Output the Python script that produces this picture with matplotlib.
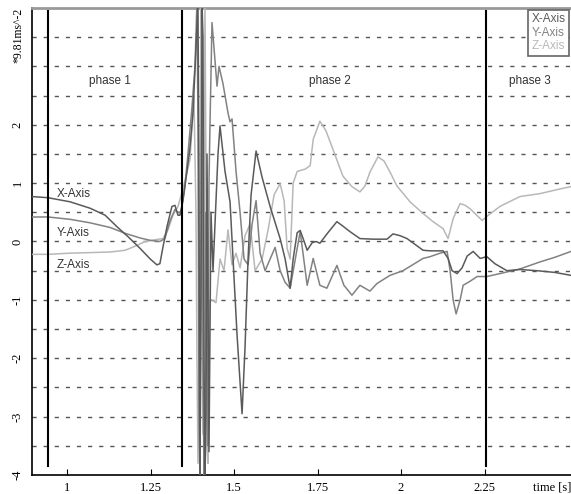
import numpy as np
import matplotlib
matplotlib.use("Agg")
import matplotlib.pyplot as plt

# ---- data (time in s, acceleration in g) ----
t_x = [0.895, 0.943, 1.009, 1.069, 1.114, 1.150, 1.183, 1.219, 1.249, 1.269, 1.278, 1.287,
       1.299, 1.314, 1.323, 1.332, 1.338, 1.347, 1.359, 1.368, 1.377, 1.386, 1.392, 1.395,
       1.398, 1.401, 1.404, 1.407, 1.410, 1.413, 1.416, 1.419, 1.422, 1.425, 1.428, 1.431,
       1.437, 1.443, 1.452, 1.458, 1.473, 1.488, 1.497, 1.509, 1.524, 1.533, 1.542, 1.551,
       1.566, 1.584, 1.608, 1.638, 1.653, 1.668, 1.677, 1.689, 1.698, 1.710, 1.719, 1.734,
       1.746, 1.757, 1.781, 1.808, 1.829, 1.847, 1.877, 1.916, 1.958, 1.976, 1.997, 2.018,
       2.042, 2.066, 2.087, 2.126, 2.141, 2.153, 2.168, 2.183, 2.198, 2.216, 2.237, 2.257,
       2.281, 2.317, 2.356, 2.407, 2.461, 2.509]
x_axis = [0.77, 0.75, 0.68, 0.57, 0.45, 0.25, 0.08, -0.12, -0.30, -0.40, -0.38, -0.10,
          0.25, 0.60, 0.62, 0.45, 0.45, 0.70, 1.20, 1.60, 2.20, 3.30, 4.10, 0.50,
          -4.10, -1.00, 4.10, 3.50, -2.00, -4.10, -3.00, 1.50, -1.00, -3.60, -1.50, 0.50,
          -0.50, 0.30, 1.50, 1.98, 1.20, 0.68, -0.30, -1.60, -2.95, -1.80, -0.30, 0.80,
          1.55, 1.10, 0.60, 0.05, -0.30, -0.80, -0.30, 0.15, 0.19, 0.00, -0.15, -0.02,
          0.00, -0.03, 0.15, 0.34, 0.25, 0.17, 0.05, 0.04, 0.04, 0.13, 0.10, 0.05,
          -0.05, -0.15, -0.16, -0.16, -0.29, -0.50, -0.55, -0.45, -0.25, -0.17, -0.29, -0.26,
          -0.38, -0.50, -0.48, -0.50, -0.53, -0.58]

t_y = [0.895, 0.943, 1.009, 1.069, 1.129, 1.174, 1.219, 1.249, 1.278, 1.293, 1.308, 1.323,
       1.332, 1.341, 1.353, 1.362, 1.374, 1.383, 1.389, 1.392, 1.395, 1.398, 1.401, 1.404,
       1.407, 1.410, 1.413, 1.416, 1.419, 1.422, 1.425, 1.428, 1.434, 1.443, 1.449, 1.455,
       1.467, 1.482, 1.488, 1.494, 1.506, 1.518, 1.530, 1.542, 1.554, 1.566, 1.578, 1.593,
       1.608, 1.623, 1.638, 1.653, 1.668, 1.698, 1.719, 1.737, 1.757, 1.778, 1.808, 1.829,
       1.853, 1.877, 1.907, 1.928, 1.967, 2.006, 2.066, 2.087, 2.117, 2.138, 2.147, 2.156,
       2.165, 2.177, 2.186, 2.207, 2.228, 2.257, 2.296, 2.356, 2.416, 2.461, 2.509]
y_axis = [0.42, 0.42, 0.38, 0.32, 0.24, 0.14, 0.06, 0.02, 0.00, 0.05, 0.35, 0.55,
          0.50, 0.50, 0.95, 1.50, 2.30, 3.00, 4.10, 2.00, -3.00, -4.10, 0.00, 2.50,
          -2.00, -4.10, -3.50, 0.50, -1.50, -3.50, 1.00, 2.00, 3.75, 3.10, 2.66, 3.00,
          2.70, 2.20, 2.05, 2.10, 1.20, 0.50, -0.30, -0.40, 0.30, 0.70, -0.20, -0.50,
          -0.30, -0.10, -0.50, -0.70, -0.80, 0.17, -0.75, -0.29, -0.75, -0.80, -0.41, -0.75,
          -0.92, -0.75, -0.85, -0.72, -0.58, -0.50, -0.29, -0.26, -0.20, -0.17, -0.50, -1.00,
          -1.24, -1.00, -0.75, -0.68, -0.60, -0.60, -0.55, -0.47, -0.35, -0.27, -0.17]

t_z = [0.895, 0.943, 1.009, 1.069, 1.129, 1.174, 1.204, 1.234, 1.263, 1.287, 1.302, 1.317,
       1.332, 1.347, 1.368, 1.380, 1.386, 1.389, 1.392, 1.395, 1.398, 1.401, 1.404, 1.407,
       1.410, 1.413, 1.416, 1.419, 1.422, 1.425, 1.428, 1.434, 1.446, 1.458, 1.470, 1.482,
       1.494, 1.506, 1.518, 1.533, 1.548, 1.563, 1.584, 1.602, 1.620, 1.638, 1.650, 1.659,
       1.668, 1.677, 1.689, 1.713, 1.728, 1.737, 1.757, 1.775, 1.796, 1.826, 1.853, 1.877,
       1.892, 1.907, 1.931, 1.949, 1.967, 1.988, 2.027, 2.066, 2.096, 2.126, 2.141, 2.156,
       2.177, 2.192, 2.207, 2.243, 2.257, 2.296, 2.356, 2.416, 2.476, 2.509]
z_axis = [-0.22, -0.22, -0.20, -0.19, -0.18, -0.15, -0.08, 0.00, 0.03, 0.05, 0.20, 0.45,
          0.60, 0.90, 1.40, 2.50, 0.50, -2.00, -3.80, -2.50, 1.50, 4.10, -1.00, -3.30,
          -1.00, 4.10, 1.00, -3.50, -3.80, -2.00, -1.00, -1.00, -1.05, -0.30, -0.50, 0.20,
          -0.40, -0.20, -0.45, 0.10, 0.30, -0.50, -0.30, 0.20, 0.80, 0.99, 0.70, -0.12,
          -0.30, 1.00, 1.20, 1.24, 1.30, 1.75, 2.06, 1.90, 1.58, 1.12, 0.94, 0.85,
          0.95, 1.19, 1.45, 1.38, 1.19, 0.95, 0.68, 0.48, 0.34, 0.22, 0.05, 0.39,
          0.65, 0.62, 0.56, 0.36, 0.43, 0.60, 0.77, 0.82, 0.90, 0.94]

phase_t = [0.943, 1.344, 2.254]
phase_names = ["phase 1", "phase 2", "phase 3"]
phase_label_t = [1.129, 1.787, 2.386]

col_x, col_y, col_z = "#5a5a5a", "#828282", "#b8b8b8"

serif = "Liberation Serif"
sans = "Liberation Sans"

fig = plt.figure(figsize=(5.71, 4.94), dpi=100)
ax = fig.add_axes([32/571, 19/494, 539/571, 467/494])

# dashed horizontal grid every 0.5
ax.set_ylim(-4, 4)
ax.set_xlim(0.895, 2.509)
for g in np.arange(-3.5, 3.6, 0.5):
    ax.axhline(g, color="#555555", lw=1.0, ls=(0, (3, 5)), zorder=1)

ax.plot(t_z, z_axis, color=col_z, lw=1.1, label="Z-Axis", zorder=3)
ax.plot(t_y, y_axis, color=col_y, lw=1.1, label="Y-Axis", zorder=4)
ax.plot(t_x, x_axis, color=col_x, lw=1.1, label="X-Axis", zorder=5)

# phase boundaries
for pt in phase_t:
    ax.plot([pt, pt], [-3.85, 3.95], color="black", lw=1.5, zorder=6)
for name, lt in zip(phase_names, phase_label_t):
    ax.text(lt, 2.75, name, ha="center", va="center", fontsize=8.5, family=sans, color="#333333")

# curve labels
ax.text(0.97, 0.81, "X-Axis", fontsize=8.5, family=sans, color="#333333", va="center")
ax.text(0.97, 0.15, "Y-Axis", fontsize=8.5, family=sans, color="#333333", va="center")
ax.text(0.97, -0.40, "Z-Axis", fontsize=8.5, family=sans, color="#333333", va="center")

# legend: coloured text only
h, l = ax.get_legend_handles_labels()
order = [2, 1, 0]
leg = ax.legend([h[i] for i in order], [l[i] for i in order], loc="upper right",
                handlelength=0, handletextpad=0, labelcolor="linecolor",
                fancybox=False, framealpha=1, edgecolor="#666666", borderpad=0.3,
                labelspacing=0.12, borderaxespad=0.15,
                prop={"family": sans, "size": 8.5})
for line in leg.get_lines():
    line.set_visible(False)
leg.get_frame().set_linewidth(1.2)

# axes styling
ax.set_xticks([1, 1.25, 1.5, 1.75, 2, 2.25])
ax.set_xticklabels(["1", "1.25", "1.5", "1.75", "2", "2.25"], family=serif, fontsize=9)
ax.set_yticks([-4, -3, -2, -1, 0, 1, 2])
ax.set_yticklabels(["-4", "-3", "-2", "-1", "0", "1", "2"], family=serif, fontsize=9,
                   rotation=90, va="center")
ax.tick_params(axis="x", direction="in", length=4, pad=5)
ax.tick_params(axis="y", length=0, pad=6)
ax.spines["top"].set_color("#999999")
ax.spines["top"].set_linewidth(2)
ax.spines["right"].set_visible(False)
ax.spines["left"].set_linewidth(1.2)
ax.spines["bottom"].set_linewidth(1.2)

fig.text(18/571, 1 - 8/494, "*9.81ms^-2", rotation=90, ha="center", va="top",
         family=serif, fontsize=8.5)
fig.text(1.0, 7/494, "time [s]", ha="right", va="center", family=serif, fontsize=9)

fig.savefig("out.png", dpi=100)
